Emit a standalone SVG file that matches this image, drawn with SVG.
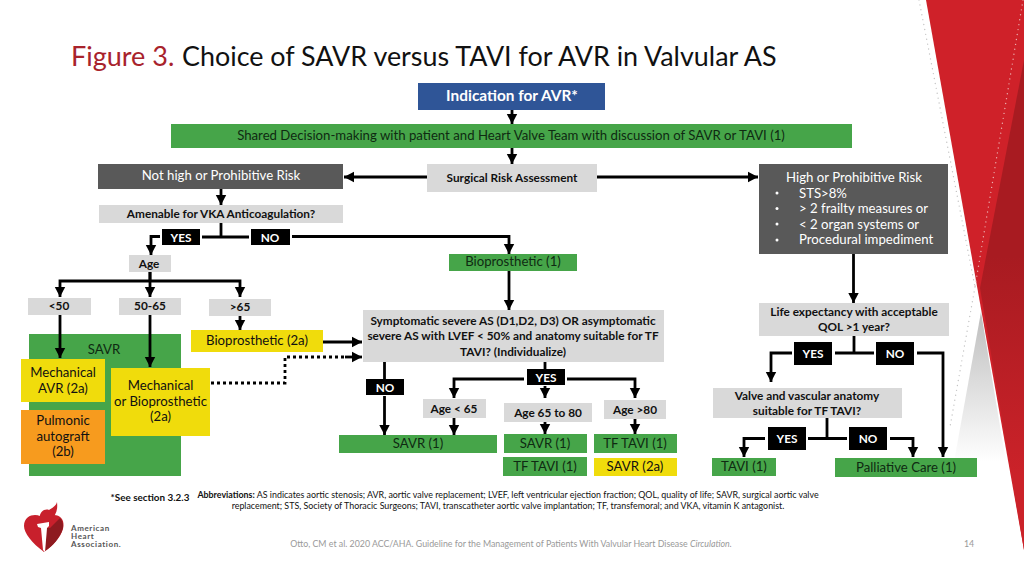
<svg xmlns="http://www.w3.org/2000/svg" width="1024" height="576" viewBox="0 0 1024 576">
<style>
text{font-family:"Lato","Open Sans","Liberation Sans",sans-serif;fill:#111;text-anchor:middle;font-size:13.2px}
.b{font-weight:700;font-size:11.8px}
.w{fill:#fff}
.g{fill:#d9d9d9}.d{fill:#595959}.gr{fill:#46a549}.y{fill:#f0dc0c}.o{fill:#f79b1e}.k{fill:#000}
.dt{fill:#0f2a12}
.l{fill:none;stroke:#000;stroke-width:2.8}
.a{marker-end:url(#ah)}
.fn{font-size:8.9px}
.cite{font-size:8.8px;fill:#999}
.lg{text-anchor:start;font-size:8px;letter-spacing:.6px;font-weight:700;fill:#555}
</style>
<defs>
<marker id="ah" markerUnits="userSpaceOnUse" markerWidth="12" markerHeight="12" refX="10" refY="6" orient="auto"><path d="M0 0.8L10 6L0 11.2Z" fill="#000"/></marker>
<linearGradient id="dr" x1="0" y1="0" x2="0" y2="1"><stop offset="0.4" stop-color="#a81b21"/><stop offset="0.85" stop-color="#cb2229"/></linearGradient>
<linearGradient id="gw" x1="0" y1="0" x2="0" y2="1"><stop offset="0" stop-color="#bdbdbd"/><stop offset="1" stop-color="#fff"/></linearGradient>
</defs>

<g id="background">
<polygon points="926,0 1024,0 1024,550" fill="#cf2129"/>
<polygon points="1024,60 980,288 1024,550" fill="url(#dr)"/>
<polygon points="981,312 954,462 1006,462" fill="url(#gw)"/>
<path d="M919 0L975 287" fill="none" stroke="#c4c4c4" stroke-width="1.4" stroke-linecap="round" stroke-dasharray="0 5"/>
<path d="M1023 0L975 287" fill="none" stroke="#eab0b0" stroke-width="1.4" stroke-linecap="round" stroke-dasharray="0 5"/>
<path d="M975 287L950 427" fill="none" stroke="#c4c4c4" stroke-width="1.4" stroke-linecap="round" stroke-dasharray="0 5"/>
</g>

<g id="title">
<text x="71" y="66" style="text-anchor:start;font-size:27px;fill:#a8232c">Figure 3.</text>
<text x="182" y="66" style="text-anchor:start;font-size:26.900px">Choice of SAVR versus TAVI for AVR in Valvular AS</text>
</g>

<g id="n-savr-bg"><rect class="gr" x="29" y="334" width="152" height="142"/><text x="104" y="354" class="dt">SAVR</text></g>

<g id="connectors">
<path class="l a" d="M512 110V124"/>
<path class="l a" d="M512 148V164"/>
<path class="l a" d="M427 177H344"/>
<path class="l a" d="M597 177H758"/>
<path class="l a" d="M221 189V205"/>
<path class="l" d="M221 223V237M202 237H249"/>
<path class="l a" d="M160 236.500H151V255"/>
<path class="l a" d="M292 236.500H509V254"/>
<path class="l" d="M150 272V281"/>
<path class="l a" d="M150 281H60V297"/>
<path class="l a" d="M150 272V297"/>
<path class="l a" d="M150 281H240V297"/>
<path class="l a" d="M60 315V358"/>
<path class="l a" d="M150 315V367"/>
<path class="l a" d="M240 316V330"/>
<path class="l a" d="M323 342H362"/>
<path class="l" d="M211 383H285V357H345" stroke-dasharray="3 3"/>
<path class="l a" d="M345 357H362"/>
<path class="l a" d="M509 271V310"/>
<path class="l" d="M384.500 362V379"/>
<path class="l a" d="M384.500 396V435"/>
<path class="l" d="M545 362V369"/>
<path class="l a" d="M524 379H454V398"/>
<path class="l a" d="M567 379H635V398"/>
<path class="l a" d="M545 386V398"/>
<path class="l a" d="M454 418V435"/>
<path class="l a" d="M545 422V434"/>
<path class="l a" d="M635 419V434"/>
<path class="l a" d="M853.500 254V303"/>
<path class="l" d="M854 336V353M835 353H874"/>
<path class="l a" d="M792 353H771V382"/>
<path class="l a" d="M917 353H943V457"/>
<path class="l" d="M827 418V438M808 438.500H847"/>
<path class="l a" d="M765 438.500H744V457"/>
<path class="l a" d="M890 438.500H913V457"/>
</g>

<g id="n-indication"><rect x="418" y="83" width="187" height="27" fill="#2f5597"/><text x="512" y="101" class="w" style="font-weight:700;font-size:15.400px">Indication for AVR*</text></g>
<g id="n-shared"><rect class="gr" x="171" y="124" width="681" height="24"/><text x="511" y="140" class="dt">Shared Decision-making with patient and Heart Valve Team with discussion of SAVR or TAVI (1)</text></g>
<g id="n-surgical"><rect class="g" x="427" y="164" width="170" height="28"/><text x="512" y="182" class="b">Surgical Risk Assessment</text></g>
<g id="n-nothigh"><rect class="d" x="98" y="164" width="245" height="25"/><text x="221" y="180" class="w">Not high or Prohibitive Risk</text></g>
<g id="n-high"><rect class="d" x="759" y="164" width="189" height="90"/>
<text x="854" y="182" class="w">High or Prohibitive Risk</text>
<g style="fill:#fff"><circle cx="777" cy="193" r="1.500"/><circle cx="777" cy="208.500" r="1.500"/><circle cx="777" cy="224" r="1.500"/><circle cx="777" cy="240" r="1.500"/></g>
<text x="799" y="198" class="w" style="text-anchor:start">STS&gt;8%</text>
<text x="799" y="213" class="w" style="text-anchor:start">&gt; 2 frailty measures or</text>
<text x="799" y="229" class="w" style="text-anchor:start">&lt; 2 organ systems or</text>
<text x="799" y="244" class="w" style="text-anchor:start">Procedural impediment</text></g>
<g id="n-vka"><rect class="g" x="99" y="205" width="244" height="18"/><text x="221" y="218" class="b">Amenable for VKA Anticoagulation?</text></g>
<g id="n-yes1"><rect class="k" x="162" y="229" width="38" height="16"/><text x="181" y="241.500" class="b w">YES</text></g>
<g id="n-no1"><rect class="k" x="251" y="229" width="39" height="16"/><text x="270" y="241.500" class="b w">NO</text></g>
<g id="n-age"><rect class="g" x="129" y="255" width="42" height="17"/><text x="149" y="268" class="b">Age</text></g>
<g id="n-bio1"><rect class="gr" x="449" y="254" width="128" height="17"/><text x="513" y="266" class="dt">Bioprosthetic (1)</text></g>
<g id="n-lt50"><rect class="g" x="28" y="298" width="63" height="17"/><text x="59" y="310" class="b">&lt;50</text></g>
<g id="n-50-65"><rect class="g" x="119" y="298" width="62" height="17"/><text x="150" y="310" class="b">50-65</text></g>
<g id="n-gt65"><rect class="g" x="209" y="299" width="62" height="17"/><text x="240" y="311" class="b">&gt;65</text></g>
<g id="n-bio2a"><rect class="y" x="191" y="330" width="132" height="22"/><text x="257" y="345">Bioprosthetic (2a)</text></g>
<g id="n-mech"><rect class="y" x="21" y="359" width="84" height="43"/><text x="63" y="377">Mechanical</text><text x="63" y="393">AVR (2a)</text></g>
<g id="n-pulm"><rect class="o" x="21" y="410" width="84" height="54"/><text x="63" y="425">Pulmonic</text><text x="63" y="441">autograft</text><text x="63" y="456">(2b)</text></g>
<g id="n-mechbio"><rect class="y" x="111" y="368" width="99" height="68"/><text x="160.500" y="390">Mechanical</text><text x="160.500" y="406">or Bioprosthetic</text><text x="160.500" y="421">(2a)</text></g>
<g id="n-sympt"><rect class="g" x="363" y="310" width="301" height="52"/><text x="513" y="325" class="b">Symptomatic severe AS (D1,D2, D3) OR asymptomatic</text><text x="513" y="340" class="b">severe AS with LVEF &lt; 50% and anatomy suitable for TF</text><text x="513" y="356" class="b">TAVI? (Individualize)</text></g>
<g id="n-no2"><rect class="k" x="366" y="379" width="38" height="16"/><text x="385" y="391.500" class="b w">NO</text></g>
<g id="n-yes2"><rect class="k" x="527" y="369" width="38" height="16"/><text x="546" y="381.500" class="b w">YES</text></g>
<g id="n-agelt65"><rect class="g" x="423" y="399" width="63" height="19"/><text x="454" y="413" class="b">Age &lt; 65</text></g>
<g id="n-age6580"><rect class="g" x="504" y="403" width="88" height="19"/><text x="548" y="417" class="b">Age 65 to 80</text></g>
<g id="n-agegt80"><rect class="g" x="604" y="400" width="62" height="19"/><text x="635" y="414" class="b">Age &gt;80</text></g>
<g id="n-savr1a"><rect class="gr" x="339" y="435" width="158" height="18"/><text x="418" y="448" class="dt">SAVR (1)</text></g>
<g id="n-savr1b"><rect class="gr" x="504" y="434" width="83" height="19"/><text x="545" y="448" class="dt">SAVR (1)</text></g>
<g id="n-tftavi1a"><rect class="gr" x="594" y="434" width="83" height="19"/><text x="635" y="448" class="dt">TF TAVI (1)</text></g>
<g id="n-tftavi1b"><rect class="gr" x="503" y="457" width="84" height="19"/><text x="545" y="471" class="dt">TF TAVI (1)</text></g>
<g id="n-savr2a"><rect class="y" x="594" y="458" width="83" height="18"/><text x="635" y="471">SAVR (2a)</text></g>
<g id="n-life"><rect class="g" x="759" y="303" width="190" height="33"/><text x="854" y="316" class="b">Life expectancy with acceptable</text><text x="854" y="331" class="b">QOL &gt;1 year?</text></g>
<g id="n-yes3"><rect class="k" x="794" y="342" width="38" height="23"/><text x="813" y="357.500" class="b w">YES</text></g>
<g id="n-no3"><rect class="k" x="876" y="342" width="38" height="23"/><text x="895" y="357.500" class="b w">NO</text></g>
<g id="n-valve"><rect class="g" x="713" y="388" width="189" height="30"/><text x="807" y="400" class="b">Valve and vascular anatomy</text><text x="807" y="415" class="b">suitable for TF TAVI?</text></g>
<g id="n-yes4"><rect class="k" x="768" y="427" width="38" height="23"/><text x="787" y="442.500" class="b w">YES</text></g>
<g id="n-no4"><rect class="k" x="849" y="427" width="38" height="23"/><text x="868" y="442.500" class="b w">NO</text></g>
<g id="n-tavi"><rect class="gr" x="712" y="458" width="64" height="18"/><text x="744" y="471" class="dt">TAVI (1)</text></g>
<g id="n-pall"><rect class="gr" x="835" y="458" width="142" height="19"/><text x="906" y="472" class="dt">Palliative Care (1)</text></g>

<g id="footer">
<text x="150" y="501" class="b" style="font-size:9.900px">*See section 3.2.3</text>
<text x="508" y="498" class="fn"><tspan style="font-weight:700">Abbreviations:</tspan> AS indicates aortic stenosis; AVR, aortic valve replacement; LVEF, left ventricular ejection fraction; QOL, quality of life; SAVR, surgical aortic valve</text>
<text x="508" y="509" class="fn">replacement; STS, Society of Thoracic Surgeons; TAVI, transcatheter aortic valve implantation; TF, transfemoral; and VKA, vitamin K antagonist.</text>
<text x="511" y="547" class="cite">Otto, CM et al. 2020 ACC/AHA. Guideline for the Management of Patients With Valvular Heart Disease <tspan style="font-style:italic">Circulation.</tspan></text>
<text x="969" y="547" class="cite">14</text>
</g>

<g id="logo">
<path d="M44 552C32 543 24 533 24 526C24 518 30 515 35 515C39 515 42 517 44 519C46 517 50 515 54 515C60 515 64 519 63.500 526C63 534 55 544 44 552Z" fill="#c8202c"/>
<path d="M50 528L47 528L45 551C53 546 60 538 63 528C63.500 523 62 520 60 518Z" fill="#8e1a20"/>
<path d="M57 502C58 510 56 516 50 520L40 521C38 513 44 508 49 510C52 508 56 506 57 502Z" fill="#c8202c"/>
<path d="M37 524L49 522V526L47 528L45 552L43 550L41 528L38 527Z" fill="#fff"/>
<text x="71" y="530.500" class="lg">American</text>
<text x="71" y="538.500" class="lg">Heart</text>
<text x="71" y="546.500" class="lg">Association.</text>
</g>
</svg>
